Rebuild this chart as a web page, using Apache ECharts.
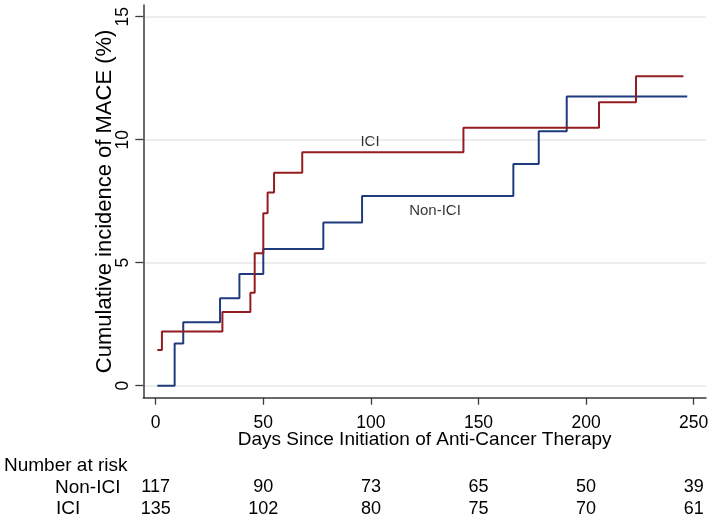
<!DOCTYPE html>
<html>
<head>
<meta charset="utf-8">
<script src="https://cdn.jsdelivr.net/npm/echarts@6/dist/echarts.min.js"></script>
<style>
html,body{margin:0;padding:0;background:#fff;}
#chart{width:714px;height:520px;}
</style>
</head>
<body>
<div id="chart"></div>
<script>
// ---- data ----
const nonIciDays = [0.75, 8.8, 12.8, 29.9, 38.9, 50, 77.9, 95.9, 166.2, 178, 191, 247];
const nonIciInc  = [0, 1.72, 2.58, 3.55, 4.54, 5.56, 6.63, 7.71, 9.01, 10.34, 11.76, 11.76];
const iciDays = [0.75, 2.9, 31, 44, 46, 50, 52, 55, 68.1, 143, 206, 223.2, 245.2];
const iciInc  = [1.45, 2.2, 3.0, 3.78, 5.38, 7.01, 7.85, 8.66, 9.49, 10.49, 11.52, 12.58, 12.58];

const xTicks = [0, 50, 100, 150, 200, 250];
const yTicks = [0, 5, 10, 15];

const riskTimes = [0, 50, 100, 150, 200, 250];
const riskNonIci = [117, 90, 73, 65, 50, 39];
const riskIci = [135, 102, 80, 75, 70, 61];
const riskHeader = 'Number at risk';
const riskGroups = ['Non-ICI', 'ICI'];

const annotText = ['ICI', 'Non-ICI'];
const annotX = [99.6, 129.8];
const annotY = [9.93, 7.09];

const xTitle = 'Days Since Initiation of Anti-Cancer Therapy';
const yTitle = 'Cumulative incidence of MACE (%)';

// ---- chart ----
const FONT = '"Liberation Sans", Arial, sans-serif';
const BLUE = '#1f3b7d';
const RED = '#931c21';
const AXIS = '#3a3a3a';
const GRID = '#e4e9ec';

const zip = (a, b) => a.map((v, i) => [v, b[i]]);
const xMin = -5.76, xMax = 255.72;

function riskAxis(values, margin) {
  return {
    type: 'value', gridIndex: 0, position: 'bottom', offset: 0,
    min: xMin, max: xMax,
    axisLine: {show: false}, axisTick: {show: false}, splitLine: {show: false},
    axisLabel: {
      show: true, margin: margin, fontFamily: FONT, fontSize: 18, color: '#000',
      customValues: riskTimes,
      formatter: v => { const i = riskTimes.indexOf(v); return i >= 0 ? String(values[i]) : ''; }
    }
  };
}

const option = {
  backgroundColor: '#fff',
  animation: false,
  grid: [{left: 143.3, right: 8, top: 5, bottom: 122.3, containLabel: false}],
  xAxis: [
    {
      type: 'value', gridIndex: 0, position: 'bottom',
      min: xMin, max: xMax,
      name: xTitle, nameLocation: 'middle', nameGap: 32.5, nameMoveOverlap: false,
      nameTextStyle: {fontFamily: FONT, fontSize: 19, color: '#000'},
      axisLine: {show: true, onZero: false, lineStyle: {color: AXIS, width: 1.5}},
      axisTick: {show: true, inside: false, length: 7, customValues: xTicks, lineStyle: {color: AXIS, width: 1.3}},
      axisLabel: {show: true, margin: 16, customValues: xTicks, fontFamily: FONT, fontSize: 17.5, color: '#000'},
      splitLine: {show: false}
    },
    riskAxis(riskNonIci, 80.5),
    riskAxis(riskIci, 102)
  ],
  yAxis: [{
    type: 'value', gridIndex: 0,
    min: -0.488, max: 15.476,
    name: yTitle, nameLocation: 'middle', nameGap: 27, nameRotate: 90, nameMoveOverlap: false,
    nameTextStyle: {fontFamily: FONT, fontSize: 22, color: '#000'},
    axisLine: {show: true, onZero: false, lineStyle: {color: AXIS, width: 1.5}},
    axisTick: {show: true, inside: false, length: 8, customValues: yTicks, lineStyle: {color: AXIS, width: 1.3}},
    axisLabel: {show: true, rotate: 90, margin: 11, customValues: yTicks, fontFamily: FONT, fontSize: 17.5, color: '#000'},
    splitLine: {show: true, lineStyle: {color: GRID, width: 1.6}}
  }],
  series: [
    {
      name: 'Non-ICI', type: 'line', step: 'end', xAxisIndex: 0, yAxisIndex: 0,
      data: zip(nonIciDays, nonIciInc), showSymbol: false, symbol: 'none',
      lineStyle: {color: BLUE, width: 2}, z: 3
    },
    {
      name: 'ICI', type: 'line', step: 'end', xAxisIndex: 0, yAxisIndex: 0,
      data: zip(iciDays, iciInc), showSymbol: false, symbol: 'none',
      lineStyle: {color: RED, width: 2}, z: 4
    },
    {
      name: 'labels', type: 'scatter', xAxisIndex: 0, yAxisIndex: 0,
      symbolSize: 0, silent: true,
      data: annotText.map((t, i) => ({value: [annotX[i], annotY[i]], name: t})),
      label: {show: true, position: 'inside', formatter: p => p.name,
              fontFamily: FONT, fontSize: 15, color: '#000'}
    }
  ],
  graphic: [
    {type: 'text', left: 4, top: 456, style: {text: riskHeader, font: '19px ' + FONT, fill: '#000'}},
    {type: 'text', left: 55, top: 478, style: {text: riskGroups[0], font: '19px ' + FONT, fill: '#000'}},
    {type: 'text', left: 56, top: 499, style: {text: riskGroups[1], font: '19px ' + FONT, fill: '#000'}}
  ]
};

const chart = echarts.init(document.getElementById('chart'), null, {renderer: 'canvas'});
chart.setOption(option);
</script>
</body>
</html>
